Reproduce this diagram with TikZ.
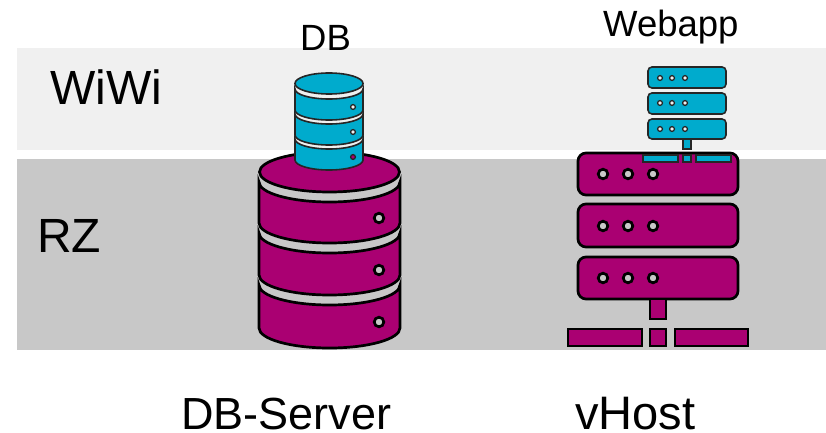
\documentclass[tikz,border=0pt]{standalone}
\usepackage{fontspec}
\setmainfont{Liberation Sans}
\definecolor{bandlight}{HTML}{F0F0F0}
\definecolor{bandgray}{HTML}{C8C8C8}
\definecolor{hostmag}{HTML}{AA0072}
\definecolor{appteal}{HTML}{00ABCD}
\tikzset{
    bigtxt/.style={anchor=base west, inner sep=0pt, font=\fontsize{48}{50}\selectfont},
    subtxt/.style={anchor=base west, inner sep=0pt, font=\fontsize{45}{50}\selectfont},
    smalltxt/.style={anchor=base west, inner sep=0pt, font=\fontsize{36.5}{40}\selectfont},
    magpart/.style={draw=black, fill=hostmag, line width=2.7pt},
    tealpart/.style={draw=black!85, fill=appteal, line width=1.6pt}
}
% one disk of a cylinder: left x, right x, top of side, bottom of side, y radius
\newcommand{\diskpart}[6]{
    \pgfmathsetmacro{\rxval}{(#3-#2)/2}
    \draw[#1] (#2,#4) arc[start angle=180, end angle=0, x radius=\rxval, y radius=#6]
        -- (#3,#5) arc[start angle=0, end angle=180, x radius=\rxval, y radius=#6] -- cycle;
}
\begin{document}
\begin{tikzpicture}[x=1pt, y=1pt, yscale=-1]
    \path[use as bounding box] (0,0) rectangle (826,433);
    \fill[bandlight] (17,48) rectangle (826,150);
    \fill[bandgray] (17,159) rectangle (826,350);

    % DB-Server
    \draw[magpart] (329.5,172) ellipse[x radius=70, y radius=20];
    \foreach \ytop/\ybot/\ydot in {182/223/218, 233/275/270, 285/328/322} {
        \diskpart{magpart}{259}{400}{\ytop}{\ybot}{20}
        \draw[black, line width=2.7pt, fill=bandgray] (379,\ydot) circle[radius=4.8];
    }

    % DB
    \draw[tealpart] (329,83.5) ellipse[x radius=34, y radius=10.5];
    \foreach \ytop/\ybot/\ydot/\cdot in {89/110/107/bandlight, 114/135/132/bandlight, 139/160/157/hostmag} {
        \diskpart{tealpart}{295}{363}{\ytop}{\ybot}{10}
        \draw[black!85, line width=1.3pt, fill=\cdot] (353,\ydot) circle[radius=2.4];
    }

    % vHost
    \foreach \ytop/\ybot/\ydot in {153/195/174, 204/247/226, 257/299/278} {
        \draw[magpart, rounded corners=8pt] (578,\ytop) rectangle (738,\ybot);
        \foreach \xdot in {603,628,653}
            \draw[black, line width=2.7pt, fill=bandgray] (\xdot,\ydot) circle[radius=4.8];
    }
    \draw[magpart] (650,299) rectangle (666,319);
    \draw[magpart] (568,329) rectangle (642,346);
    \draw[magpart] (650,329) rectangle (666,346);
    \draw[magpart] (675,329) rectangle (748,346);

    % Webapp
    \foreach \ytop/\ybot/\ydot in {67/88/78, 93/114/103, 119/139/129} {
        \draw[tealpart, rounded corners=4pt] (648,\ytop) rectangle (726,\ybot);
        \foreach \xdot in {660,672,685}
            \draw[black!85, line width=1.3pt, fill=bandlight] (\xdot,\ydot) circle[radius=2.4];
    }
    \draw[tealpart] (683,139) rectangle (691,149);
    \draw[tealpart] (643,155) rectangle (678,162);
    \draw[tealpart] (683,155) rectangle (691,162);
    \draw[tealpart] (696,155) rectangle (731,162);

    \node[bigtxt] (wiwi) at (50,105) {WiWi};
    \node[bigtxt] (rz) at (37,252) {RZ};
    \node[smalltxt] (db) at (300,51) {DB};
    \node[smalltxt] (webapp) at (603,37) {Webapp};
    \node[subtxt] (dbserver) at (181,429) {DB-Server};
    \node[subtxt, font=\fontsize{47}{50}\selectfont] (vhost) at (575,429) {vHost};
\end{tikzpicture}
\end{document}
